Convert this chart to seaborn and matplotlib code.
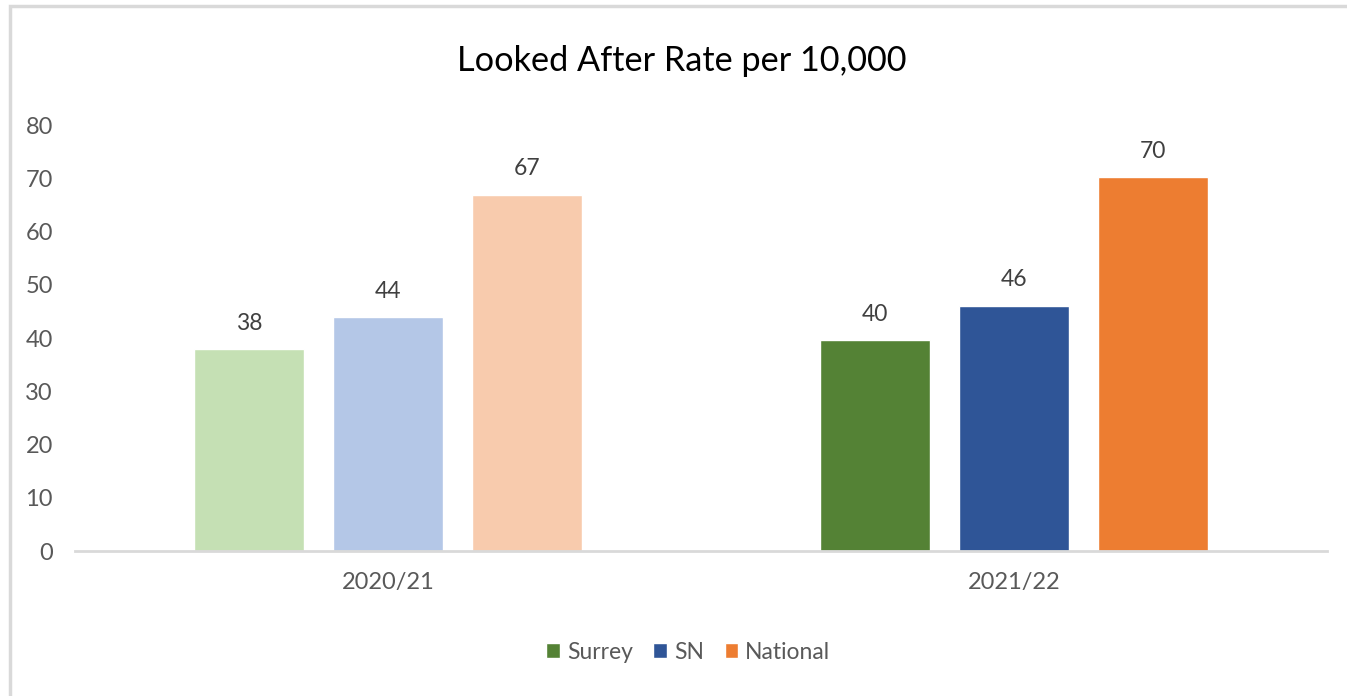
import numpy as np
import pandas as pd
import matplotlib
matplotlib.use('Agg')
import matplotlib.pyplot as plt
import seaborn as sns
from matplotlib.patches import Patch, Rectangle

years = ['2020/21', '2021/22']
areas = ['Surrey', 'SN', 'National']
rate_2020 = [37.9, 43.9, 66.9]
rate_2021 = [39.6, 46.1, 70.2]

dark_colors = ['#548235', '#2F5597', '#ED7D31']
light_colors = ['#C5E0B4', '#B4C7E7', '#F8CBAD']

df = pd.DataFrame({
    'year': np.repeat(years, len(areas)),
    'area': areas * len(years),
    'rate': rate_2020 + rate_2021,
})

sns.set_theme(style='white')
plt.rcParams['font.family'] = ['Lato', 'DejaVu Sans']

fig = plt.figure(figsize=(13.47, 6.96), dpi=100)
ax = fig.add_axes([0.0557, 0.2083, 0.9295, 0.6121])

sns.barplot(data=df, x='year', y='rate', hue='area', hue_order=areas,
            palette=dark_colors, width=0.666, gap=0.21, ax=ax, legend=False)

# first year drawn in lighter tints, as in the original chart
for i, cont in enumerate(ax.containers):
    cont[0].set_facecolor(light_colors[i])
    cont[1].set_facecolor(dark_colors[i])
    ax.bar_label(cont, fmt='%.0f', padding=11, fontsize=16.5, color='#404040')

ax.set_ylim(0, 80)
ax.set_xlim(-0.5, 1.5)
ax.set_yticks(range(0, 81, 10))
ax.set_xlabel('')
ax.set_ylabel('')
ax.tick_params(axis='both', labelsize=17, colors='#595959', length=0)
ax.tick_params(axis='x', pad=15)
ax.tick_params(axis='y', pad=16)
for side in ['top', 'right', 'left']:
    ax.spines[side].set_visible(False)
ax.spines['bottom'].set_color('#D9D9D9')
ax.spines['bottom'].set_linewidth(2)

fig.text(0.506, 0.913, 'Looked After Rate per 10,000', ha='center', va='center',
         fontsize=24.7, color='black')

handles = [Patch(facecolor=c, label=a) for a, c in zip(areas, dark_colors)]
fig.legend(handles=handles, loc='center', bbox_to_anchor=(0.511, 0.063), ncol=3,
           frameon=False, fontsize=16.5, labelcolor='#595959', handlelength=0.6,
           handleheight=0.6, handletextpad=0.3, columnspacing=0.9)

# light border around the chart area
fig.patches.append(Rectangle((10 / 1347, -0.1), 1.2, 1 - 6 / 696 + 0.1,
                             transform=fig.transFigure, fill=False,
                             edgecolor='#D9D9D9', linewidth=2.5))

plt.savefig('out.png', dpi=100)
print("Saved: out.png")
